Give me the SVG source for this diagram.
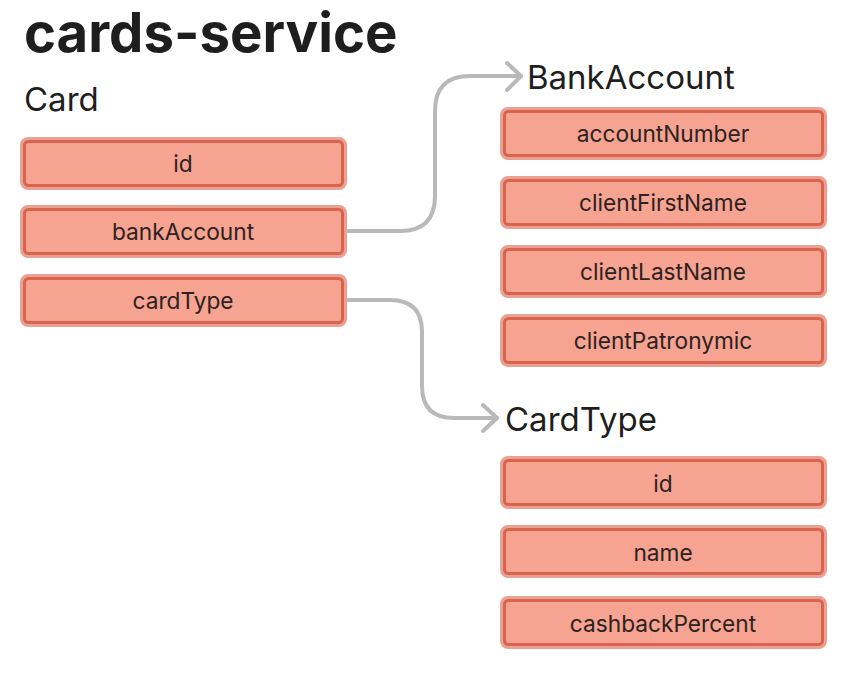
<svg xmlns="http://www.w3.org/2000/svg" width="859" height="674" viewBox="0 0 859 674">
<style>
.f rect.o{fill:none;stroke:#E28A77;stroke-width:6;opacity:0.8}
.f rect.i{fill:#F6A391;stroke:#D9634C;stroke-width:3}
.f text{font-family:Inter,"Noto Sans",sans-serif;font-size:22.7px;fill:#2B2221;text-anchor:middle}
.h{font-family:Inter,"Noto Sans",sans-serif;fill:#1E1E1E}
.c{fill:none;stroke:#B9B9B9;stroke-width:4;stroke-linecap:round;stroke-linejoin:round}
</style>
<rect width="859" height="674" fill="#FFFFFF"/>
<text class="h" x="24" y="52" font-size="54.5" font-weight="700">cards-service</text>
<g id="card">
<text class="h" x="24" y="111" font-size="33">Card</text>
<g class="f" id="card-id"><rect class="o" x="23" y="140" width="321" height="47" rx="5"/><rect class="i" x="24.5" y="141.5" width="318" height="44" rx="4"/><text x="183" y="172">id</text></g>
<g class="f" id="card-bankAccount"><rect class="o" x="23" y="208" width="321" height="47" rx="5"/><rect class="i" x="24.5" y="209.5" width="318" height="44" rx="4"/><text x="183" y="240">bankAccount</text></g>
<g class="f" id="card-cardType"><rect class="o" x="23" y="277" width="321" height="47" rx="5"/><rect class="i" x="24.5" y="278.5" width="318" height="44" rx="4"/><text x="183" y="309">cardType</text></g>
</g>
<g id="bankaccount">
<text class="h" x="527" y="89" font-size="33">BankAccount</text>
<g class="f" id="ba-accountNumber"><rect class="o" x="503" y="110" width="321" height="47" rx="5"/><rect class="i" x="504.5" y="111.5" width="318" height="44" rx="4"/><text x="663" y="142">accountNumber</text></g>
<g class="f" id="ba-clientFirstName"><rect class="o" x="503" y="179" width="321" height="47" rx="5"/><rect class="i" x="504.5" y="180.5" width="318" height="44" rx="4"/><text x="663" y="211">clientFirstName</text></g>
<g class="f" id="ba-clientLastName"><rect class="o" x="503" y="248" width="321" height="47" rx="5"/><rect class="i" x="504.5" y="249.5" width="318" height="44" rx="4"/><text x="663" y="280">clientLastName</text></g>
<g class="f" id="ba-clientPatronymic"><rect class="o" x="503" y="317" width="321" height="47" rx="5"/><rect class="i" x="504.5" y="318.5" width="318" height="44" rx="4"/><text x="663" y="349">clientPatronymic</text></g>
</g>
<g id="cardtype">
<text class="h" x="505" y="431" font-size="33">CardType</text>
<g class="f" id="ct-id"><rect class="o" x="503" y="459" width="321" height="47" rx="5"/><rect class="i" x="504.5" y="460.5" width="318" height="44" rx="4"/><text x="663" y="492">id</text></g>
<g class="f" id="ct-name"><rect class="o" x="503" y="528" width="321" height="47" rx="5"/><rect class="i" x="504.5" y="529.5" width="318" height="44" rx="4"/><text x="663" y="561">name</text></g>
<g class="f" id="ct-cashbackPercent"><rect class="o" x="503" y="599" width="321" height="47" rx="5"/><rect class="i" x="504.5" y="600.5" width="318" height="44" rx="4"/><text x="663" y="632">cashbackPercent</text></g>
</g>
<g id="connectors">
<path class="c" d="M348,231 H400 Q435,231 435,196 V111 Q435,76 470,76 H521"/>
<path class="c" d="M507,63 L521,76 L507,90"/>
<path class="c" d="M348,300 H390 Q422,300 422,332 V386 Q422,418 454,418 H497"/>
<path class="c" d="M483,405 L497,418 L483,431"/>
</g>
</svg>
